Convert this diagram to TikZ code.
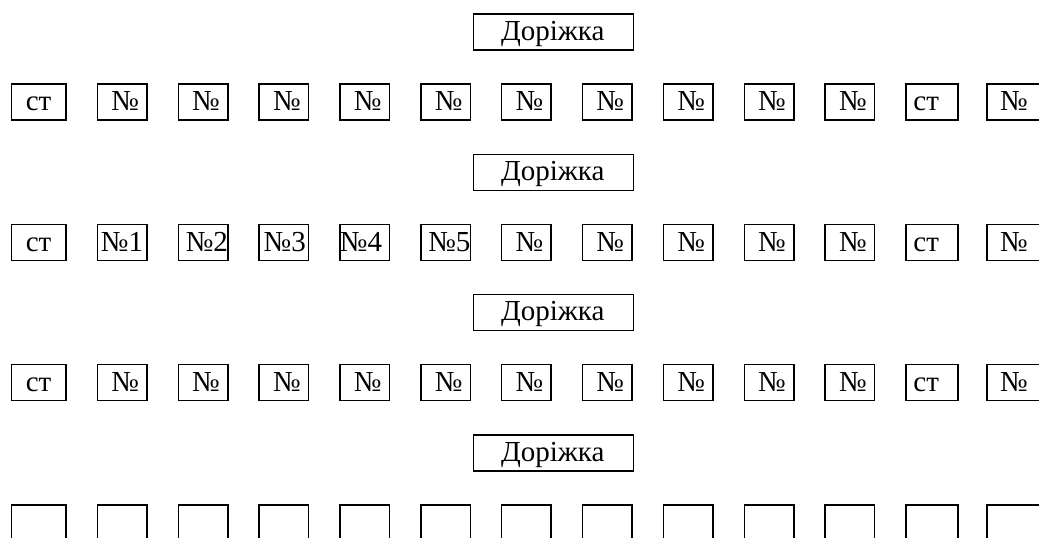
\documentclass[tikz,border=0pt]{standalone}
\usepackage{fontspec}
\setmainfont{Liberation Serif}
\begin{document}
\begin{tikzpicture}[x=1pt,y=-1pt,
  cell/.style={draw, line width=1.5pt, rectangle, anchor=north west, inner sep=0pt, minimum height=36pt},
  lbl/.style={inner sep=0pt, font=\fontsize{29}{32}\selectfont}]
\useasboundingbox (0,0) rectangle (1039,538);
\foreach \r in {0,1,2,3} {
  \pgfmathsetmacro{\yd}{13.3+140.3*\r}
  \node[cell, minimum width=160pt] (d\r) at (472.5,\yd) {};
  \node[lbl, anchor=base] (dt\r) at ([xshift=-0.5pt,yshift=-27pt]d\r.north) {Доріжка};
  \pgfmathsetmacro{\yc}{83.3+140.3*\r}
  \node[cell, minimum width=54.3pt] (c\r-0) at (10.7,\yc) {};
  \foreach \k in {1,...,12} {
    \pgfmathsetmacro{\xc}{96.7+80.85*(\k-1)}
    \pgfmathsetmacro{\wc}{\k==11 ? 52 : (\k==12 ? 55 : 49.5)}
    \node[cell, minimum width=\wc pt] (c\r-\k) at (\xc,\yc) {};
  }
}
% rows with plain labels
\foreach \r in {0,1,2} {
  \node[lbl, anchor=base] (s\r-0) at ([yshift=-27.5pt]c\r-0.north) {ст};
  \node[lbl, anchor=base west] (s\r-11) at ([xshift=8pt,yshift=-27.5pt]c\r-11.north west) {ст};
  \node[lbl, anchor=base] (s\r-12) at ([xshift=28pt,yshift=-27.5pt]c\r-12.north west) {№};
}
\foreach \r in {0,2} {
  \foreach \k in {1,...,10} {
    \node[lbl, anchor=base] (s\r-\k) at ([xshift=3pt,yshift=-27.5pt]c\r-\k.north) {№};
  }
}
\foreach \k/\t/\o in {1/1/4,2/2/8,3/3/5,4/4/0.5,5/5/8} {
  \node[lbl, anchor=base west] (s1-\k) at ([xshift=\o pt,yshift=-27.5pt]c1-\k.north west) {№\t};
}
\foreach \k in {6,...,10} {
  \node[lbl, anchor=base] (s1-\k) at ([xshift=3pt,yshift=-27.5pt]c1-\k.north) {№};
}
\end{tikzpicture}
\end{document}
